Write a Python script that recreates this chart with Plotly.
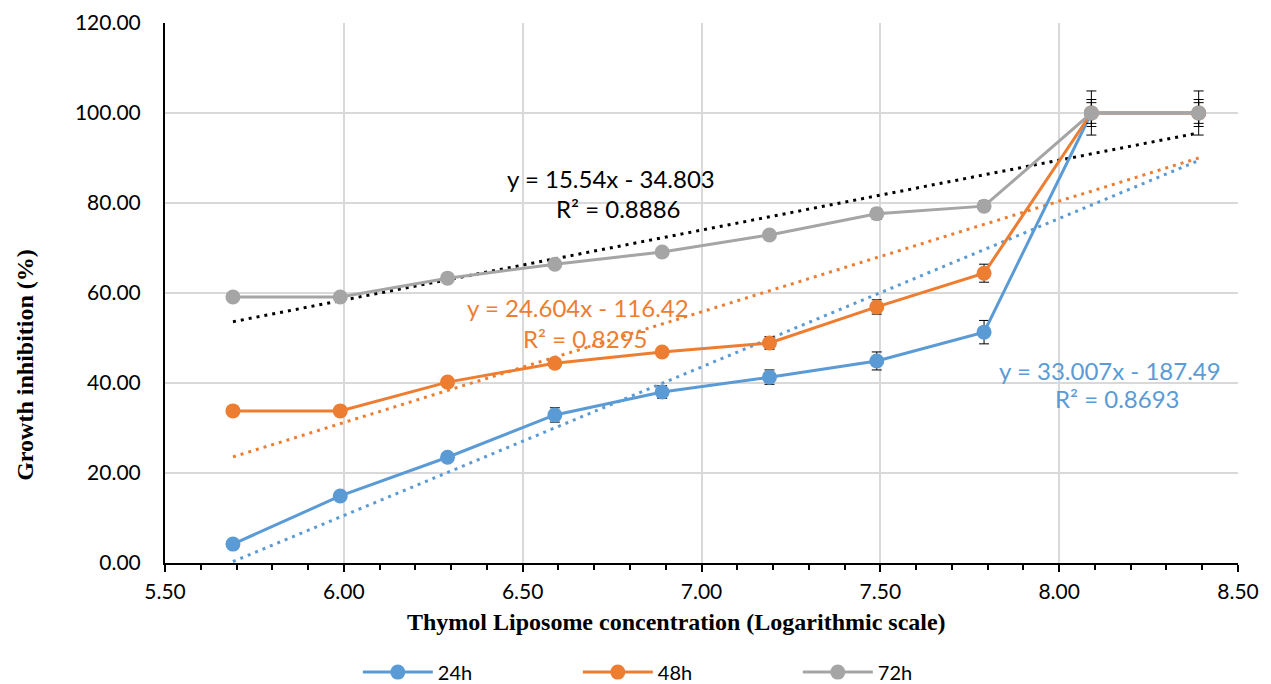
import plotly.graph_objects as go

x_log = [5.69, 5.99, 6.29, 6.59, 6.89, 7.19, 7.49, 7.79, 8.09, 8.39]
series_names = ["24h", "48h", "72h"]
y_24h = [4.2, 14.9, 23.5, 32.9, 38.0, 41.3, 44.9, 51.3, 100.0, 100.0]
y_48h = [33.8, 33.8, 40.2, 44.4, 46.9, 48.9, 56.9, 64.4, 100.0, 100.0]
y_72h = [59.1, 59.1, 63.3, 66.4, 69.1, 72.9, 77.6, 79.3, 100.0, 100.0]
err_24h = [0.6, 0.6, 0.8, 1.6, 1.4, 1.6, 2.0, 2.6, 3.0, 3.0]
err_48h = [0.5, 0.5, 0.8, 1.0, 1.0, 1.4, 1.6, 2.0, 4.9, 4.9]
err_72h = [0.5, 0.5, 0.8, 0.8, 0.8, 1.0, 1.2, 1.2, 2.3, 2.3]
slopes = [33.007, 24.604, 15.54]
intercepts = [-187.49, -116.42, -34.803]
r2 = ["0.8693", "0.8295", "0.8886"]
colors = ["#5B9BD5", "#ED7D31", "#A5A5A5"]
trend_colors = ["#5B9BD5", "#ED7D31", "#000000"]
x_title = "Thymol Liposome concentration (Logarithmic scale)"
y_title = "Growth inhibition (%)"

ys = [y_24h, y_48h, y_72h]
errs = [err_24h, err_48h, err_72h]

fig = go.Figure()

# trendlines
xt = [min(x_log), max(x_log)]
for i in range(3):
    fig.add_trace(go.Scatter(
        x=xt, y=[slopes[i] * v + intercepts[i] for v in xt],
        mode="lines", line=dict(color=trend_colors[i], width=3, dash="3px,5px"),
        showlegend=False, hoverinfo="skip"))

for i in range(3):
    fig.add_trace(go.Scatter(
        x=x_log, y=ys[i], name=series_names[i], mode="lines+markers",
        line=dict(color=colors[i], width=3),
        marker=dict(color=colors[i], size=15),
        error_y=dict(type="data", array=errs[i], color="black", thickness=1, width=5)))

ann_font = dict(family="Lato, Open Sans, sans-serif", size=24)
labels_pos = [(1110, 370, 398), (578, 307, 338), (611, 178, 208)]

def px_to_data(px, py):
    x = 5.5 + (px - 165) / (1238 - 165) * 3.0
    y = 120 * (563 - py) / (563 - 23)
    return x, y

for i in range(3):
    px, py1, py2 = labels_pos[i]
    sign = "-" if intercepts[i] < 0 else "+"
    eq = f"y = {slopes[i]}x {sign} {abs(intercepts[i])}"
    x1, y1 = px_to_data(px, py1)
    x2, y2 = px_to_data(px + 7, py2)
    c = trend_colors[i]
    fig.add_annotation(x=x1, y=y1, text=eq, showarrow=False,
                       font=dict(color=c, **ann_font))
    fig.add_annotation(x=x2, y=y2, text=f"R² = {r2[i]}", showarrow=False,
                       font=dict(color=c, **ann_font))

title_font = dict(family="Liberation Serif, Times New Roman, serif", size=24, color="#000000")
fig.add_annotation(xref="paper", yref="paper", x=0.477, y=-0.109, xanchor="center", yanchor="middle",
                   text=f"<b>{x_title}</b>", showarrow=False, font=title_font)
fig.add_annotation(xref="paper", yref="paper", x=-0.1305, y=0.367, xanchor="center", yanchor="middle",
                   text=f"<b>{y_title}</b>", textangle=-90, showarrow=False, font=title_font)

tick_font = dict(family="Lato, Open Sans, sans-serif", size=21, color="#000000")

fig.update_layout(
    width=1271, height=684,
    margin=dict(l=157, r=41, t=15, b=129, autoexpand=False),
    paper_bgcolor="white", plot_bgcolor="white",
    legend=dict(orientation="h", x=0.1797, xanchor="left", y=-0.202, yanchor="middle",
                font=dict(family="Lato, Open Sans, sans-serif", size=20, color="#000"),
                itemwidth=70, entrywidth=135, entrywidthmode="pixels", tracegroupgap=0),
    xaxis=dict(range=[5.5, 8.5], dtick=0.5, tick0=5.5, tickformat=".2f",
               showgrid=True, gridcolor="#D9D9D9", gridwidth=2,
               showline=True, linecolor="black", linewidth=2,
               ticks="outside", ticklen=7, tickcolor="black", tickwidth=1.5,
               minor=dict(dtick=0.1, ticks="outside", ticklen=5, tickcolor="black", tickwidth=1.5, showgrid=False),
               tickfont=tick_font, zeroline=False, ticklabelstandoff=2, automargin=False),
    yaxis=dict(range=[0, 120], dtick=20, tickformat=".2f",
               showgrid=True, gridcolor="#D9D9D9", gridwidth=2,
               showline=True, linecolor="black", linewidth=2,
               ticks="", tickfont=tick_font, zeroline=False, ticklabelstandoff=18, automargin=False),
)

fig.write_html("out.html")
